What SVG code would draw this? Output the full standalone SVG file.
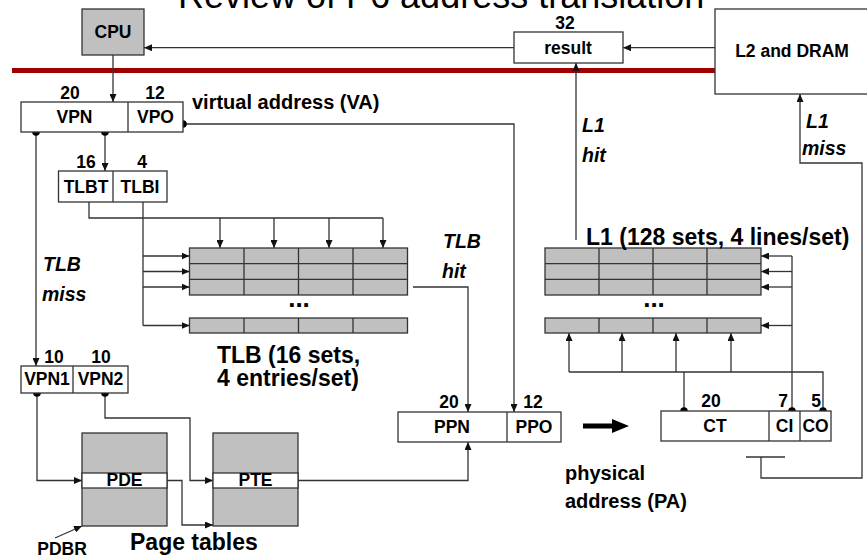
<svg xmlns="http://www.w3.org/2000/svg" width="867" height="558" viewBox="0 0 867 558">
  <defs>
    <marker id="ah" markerUnits="userSpaceOnUse" markerWidth="8" markerHeight="7" refX="8" refY="3.5" orient="auto">
      <path d="M0,0 L8,3.5 L0,7 z" fill="#111"/>
    </marker>
    <style>
      .box { fill: #fff; stroke: #333; stroke-width: 1.3; }
      .gray { fill: #c0c0c0; stroke: #333; stroke-width: 1.3; }
      .div { stroke: #333; stroke-width: 1.3; }
      .wire { fill: none; stroke: #333; stroke-width: 1.3; }
      .arr { marker-end: url(#ah); }
      .dot { fill: #000; }
      text { font-family: "Liberation Sans", Arial, sans-serif; fill: #000; }
      .t { font-weight: bold; font-size: 17.5px; text-anchor: middle; }
      .lbl { font-weight: bold; font-size: 20px; }
      .big { font-weight: bold; font-size: 23px; }
      .it { font-weight: bold; font-style: italic; font-size: 19.5px; }
      .ell { font-weight: bold; font-size: 26px; text-anchor: middle; }
    </style>
  </defs>

  <rect width="867" height="558" fill="#fff"/>

  <!-- slide heading, partly above the top edge -->
  <text x="178" y="7.5" font-size="36" fill="#0000cc">Review of P6 address translation</text>

  <!-- chip boundary -->
  <path d="M12,70.5 H715" stroke="#a00000" stroke-width="5" fill="none"/>

  <!-- connectors -->
  <g id="connectors">
    <path class="wire arr" d="M113,55 V102"/>
    <path class="wire arr" d="M514,47.7 H144"/>
    <path class="wire arr" d="M715,47.7 H623"/>
    <path class="wire arr" d="M576,240 V63"/>
    <path class="wire arr" d="M761,457 V478 H862 V163 H800 V94"/>
    <path class="wire" d="M746,457 H785"/>
    <path class="wire arr" d="M183,124 H514 V412"/>
    <path class="wire arr" d="M105,132 V171"/>
    <path class="wire arr" d="M36,132 V366"/>
    <!-- TLB tag compare -->
    <path class="wire" d="M89,202 V218 H383"/>
    <path class="wire arr" d="M220,218 V248"/>
    <path class="wire arr" d="M274,218 V248"/>
    <path class="wire arr" d="M329,218 V248"/>
    <path class="wire arr" d="M383,218 V248"/>
    <!-- TLB set select -->
    <path class="wire" d="M143,202 V325.5"/>
    <path class="wire arr" d="M143,256 H189.5"/>
    <path class="wire arr" d="M143,271.5 H189.5"/>
    <path class="wire arr" d="M143,287 H189.5"/>
    <path class="wire arr" d="M143,325.5 H189.5"/>
    <!-- TLB hit -->
    <path class="wire arr" d="M413,287 H468 V412"/>
    <!-- page walk -->
    <path class="wire arr" d="M37,393 V480.5 H82"/>
    <path class="wire arr" d="M105,393 V418 H190 V480.5 H213"/>
    <path class="wire arr" d="M167,480.5 H182 V525 H213"/>
    <path class="wire arr" d="M298,480.5 H468 V442"/>
    <path class="wire arr" d="M55,538 L82,526"/>
    <!-- L1 set select -->
    <path class="wire" d="M792,411 V256"/>
    <path class="wire arr" d="M792,256 H761"/>
    <path class="wire arr" d="M792,271.5 H761"/>
    <path class="wire arr" d="M792,287 H761"/>
    <path class="wire arr" d="M792,325.5 H761"/>
    <!-- L1 tag / offset -->
    <path class="wire" d="M823,411 V372 H569"/>
    <path class="wire" d="M684,411 V372"/>
    <path class="wire arr" d="M569,372 V333"/>
    <path class="wire arr" d="M622,372 V333"/>
    <path class="wire arr" d="M676,372 V333"/>
    <path class="wire arr" d="M731,372 V333"/>
    <!-- VA to PA -->
    <polygon points="583,423.5 612,423.5 612,419 629,426 612,433 612,428.5 583,428.5" fill="#000"/>
    <!-- taps -->
    <circle class="dot" cx="36" cy="132" r="3.8"/>
    <circle class="dot" cx="105" cy="132" r="3.8"/>
    <circle class="dot" cx="183" cy="124" r="3.8"/>
    <circle class="dot" cx="37" cy="393" r="3.8"/>
    <circle class="dot" cx="105" cy="393" r="3.8"/>
    <circle class="dot" cx="684" cy="411" r="3.8"/>
    <circle class="dot" cx="792" cy="411" r="3.8"/>
    <circle class="dot" cx="823" cy="411" r="3.8"/>
  </g>

  <g id="cpu">
    <rect class="gray" x="82" y="9" width="62" height="46"/>
    <text class="t" x="113" y="38">CPU</text>
  </g>

  <g id="result">
    <rect class="box" x="514" y="32" width="109" height="31"/>
    <text class="t" x="565" y="29">32</text>
    <text class="t" x="568" y="54">result</text>
  </g>

  <g id="l2-dram">
    <rect class="box" x="715" y="9" width="153" height="85"/>
    <text class="t" x="792" y="57">L2 and DRAM</text>
  </g>

  <g id="virtual-address">
    <rect class="box" x="21" y="102" width="162" height="30"/>
    <line class="div" x1="128" y1="102" x2="128" y2="132"/>
    <text class="t" x="74.5" y="122.5">VPN</text>
    <text class="t" x="155.5" y="122.5">VPO</text>
    <text class="t" x="70" y="99">20</text>
    <text class="t" x="155" y="99">12</text>
    <text class="lbl" x="192" y="109">virtual address (VA)</text>
  </g>

  <g id="tlb-index">
    <rect class="box" x="58.5" y="171" width="108.5" height="31"/>
    <line class="div" x1="113" y1="171" x2="113" y2="202"/>
    <text class="t" x="86" y="193">TLBT</text>
    <text class="t" x="140" y="193">TLBI</text>
    <text class="t" x="86" y="168">16</text>
    <text class="t" x="142" y="168">4</text>
  </g>

  <g id="tlb">
    <rect class="gray" x="189.5" y="248" width="218" height="47"/>
    <path class="div" d="M189.5,263.7 H407.5 M189.5,279.3 H407.5 M244,248 V295 M298.5,248 V295 M353,248 V295"/>
    <rect class="gray" x="189.5" y="318" width="218" height="15"/>
    <path class="div" d="M244,318 V333 M298.5,318 V333 M353,318 V333"/>
    <text class="ell" x="299" y="307">...</text>
    <text class="big" x="217" y="363">TLB (16 sets,</text>
    <text class="big" x="217" y="386">4 entries/set)</text>
  </g>

  <g id="l1-cache">
    <rect class="gray" x="545" y="248" width="216" height="47"/>
    <path class="div" d="M545,263.7 H761 M545,279.3 H761 M599,248 V295 M653,248 V295 M707,248 V295"/>
    <rect class="gray" x="545" y="318" width="216" height="15"/>
    <path class="div" d="M599,318 V333 M653,318 V333 M707,318 V333"/>
    <text class="ell" x="654" y="307">...</text>
    <text class="big" x="586" y="245">L1 (128 sets, 4 lines/set)</text>
  </g>

  <g id="vpn-split">
    <rect class="box" x="21" y="366" width="107" height="27"/>
    <line class="div" x1="73" y1="366" x2="73" y2="393"/>
    <text class="t" x="47" y="385">VPN1</text>
    <text class="t" x="100.5" y="385">VPN2</text>
    <text class="t" x="54" y="363">10</text>
    <text class="t" x="101" y="363">10</text>
  </g>

  <g id="page-directory">
    <rect class="gray" x="82" y="433" width="85" height="93"/>
    <rect class="box" x="82" y="473" width="85" height="15"/>
    <text class="t" x="124.5" y="486">PDE</text>
  </g>

  <g id="page-table">
    <rect class="gray" x="213" y="433" width="85" height="93"/>
    <rect class="box" x="213" y="473" width="85" height="15"/>
    <text class="t" x="255.5" y="486">PTE</text>
  </g>

  <g id="physical-address">
    <rect class="box" x="398" y="412" width="163" height="30"/>
    <line class="div" x1="507" y1="412" x2="507" y2="442"/>
    <text class="t" x="452" y="433">PPN</text>
    <text class="t" x="534" y="433">PPO</text>
    <text class="t" x="449" y="408">20</text>
    <text class="t" x="533" y="408">12</text>
  </g>

  <g id="cache-address">
    <rect class="box" x="661" y="411" width="170" height="30"/>
    <line class="div" x1="769" y1="411" x2="769" y2="441"/>
    <line class="div" x1="800" y1="411" x2="800" y2="441"/>
    <text class="t" x="715" y="432">CT</text>
    <text class="t" x="784.5" y="432">CI</text>
    <text class="t" x="815.5" y="432">CO</text>
    <text class="t" x="711" y="407">20</text>
    <text class="t" x="783" y="407">7</text>
    <text class="t" x="816" y="407">5</text>
  </g>

  <g id="labels">
    <text class="lbl" x="565" y="480">physical</text>
    <text class="lbl" x="565" y="508">address (PA)</text>
    <text class="big" x="130" y="550">Page tables</text>
    <text class="t" x="62" y="555">PDBR</text>
    <text class="it" x="43" y="271">TLB</text>
    <text class="it" x="42" y="301">miss</text>
    <text class="it" x="443" y="248">TLB</text>
    <text class="it" x="442" y="278">hit</text>
    <text class="it" x="582" y="132">L1</text>
    <text class="it" x="582" y="162">hit</text>
    <text class="it" x="806" y="128">L1</text>
    <text class="it" x="802" y="155">miss</text>
  </g>
</svg>
